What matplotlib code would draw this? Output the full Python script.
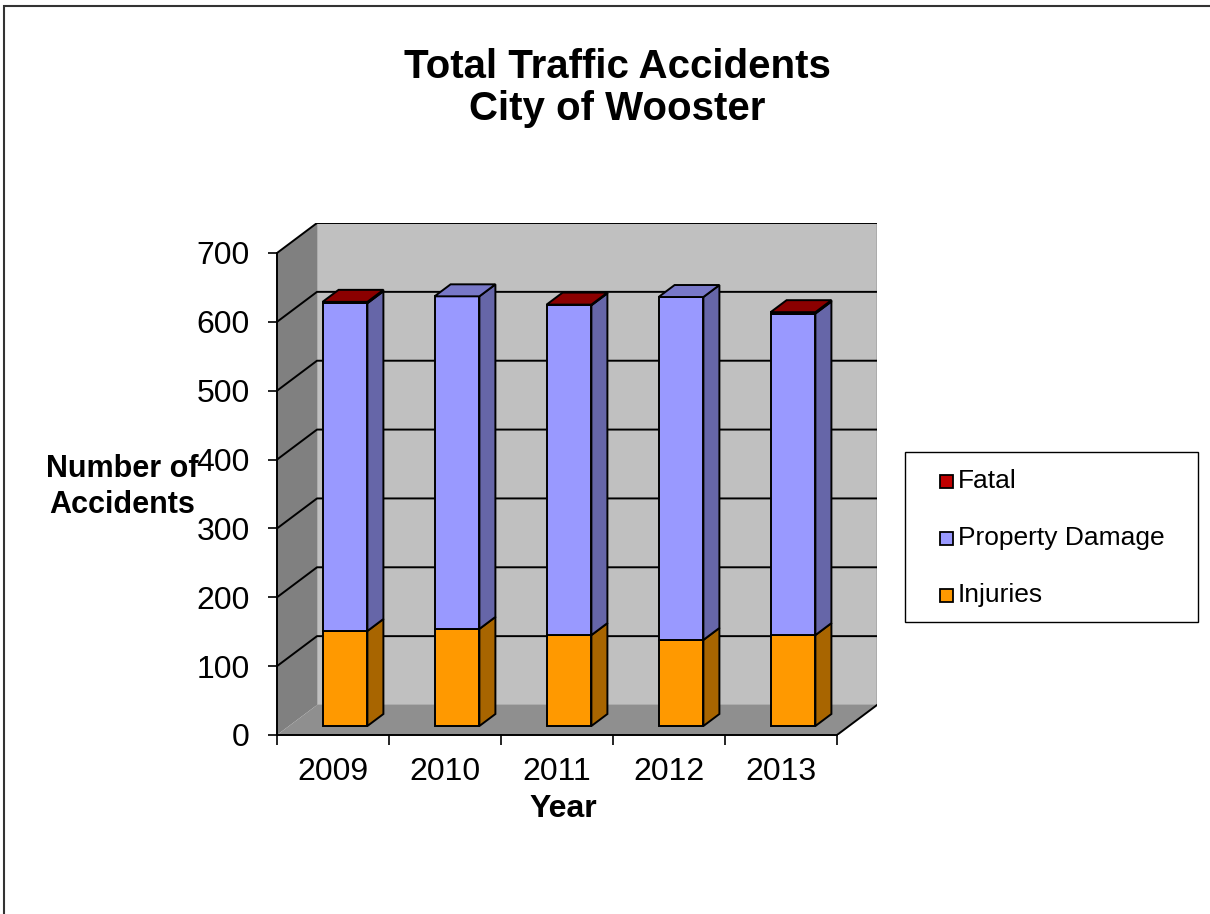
import matplotlib
matplotlib.use("Agg")

import matplotlib.pyplot as plt
from matplotlib.patches import Polygon, Rectangle

plt.rcParams["font.family"] = ["Liberation Sans", "DejaVu Sans"]

# ---------------------------------------------------------------------------
# Data
# ---------------------------------------------------------------------------
years = ["2009", "2010", "2011", "2012", "2013"]
injuries = [138, 141, 132, 125, 132]
property_damage = [476, 483, 479, 498, 467]
fatal = [2, 0, 1, 0, 2]

y_ticks = [0, 100, 200, 300, 400, 500, 600, 700]

# series: (label, values, front, top, side)
SERIES = [
    ("Injuries", injuries, "#FF9900", "#CC7A00", "#A86500"),
    ("Property Damage", property_damage, "#9999FF", "#7878C8", "#6666A8"),
    ("Fatal", fatal, "#C00000", "#8B0000", "#660000"),
]

# ---------------------------------------------------------------------------
# Fake 3D geometry (in data units)
# ---------------------------------------------------------------------------
W, H = 1210, 914
DX = 40 / 112          # depth offset, category units
DY = 30 / (482 / 700)  # depth offset, value units
YMAX = 700
Z0, Z1 = 0.3, 0.7      # bar depth range
BAR_W = 0.4
N = len(years)


def proj(x, y, z):
    return (x + z * DX, y + z * DY)


fig = plt.figure(figsize=(W / 100, H / 100), dpi=100)
ax = fig.add_axes([277 / W, (H - 735) / H, 600 / W, 512 / H])
ax.set_xlim(0, N + DX)
ax.set_ylim(0, YMAX + DY)
ax.patch.set_visible(False)

# walls and floor
ax.add_patch(Polygon([(DX, DY), (N + DX, DY), (N + DX, YMAX + DY), (DX, YMAX + DY)],
                     closed=True, fc="#C0C0C0", ec="#A8A8A8", lw=1.2, zorder=0))
ax.add_patch(Polygon([(0, 0), (DX, DY), (DX, YMAX + DY), (0, YMAX)],
                     closed=True, fc="#808080", ec="none", zorder=0))
ax.add_patch(Polygon([(0, 0), (N, 0), (N + DX, DY), (DX, DY)],
                     closed=True, fc="#8F8F8F", ec="none", zorder=0))

# gridlines on back and left wall
for v in y_ticks[1:]:
    ax.plot([0, DX, N + DX], [v, v + DY, v + DY], color="black", lw=1.4, zorder=1)
ax.plot([N, N + DX], [0, DY], color="black", lw=1.4, zorder=1)

# bars
for i in range(N):
    x0 = i + 0.5 - BAR_W / 2
    x1 = x0 + BAR_W
    base = 0
    top_color = None
    for label, vals, c_front, c_top, c_side in SERIES:
        v = vals[i]
        if v <= 0:
            continue
        y0, y1 = base, base + v
        side = [proj(x1, y0, Z0), proj(x1, y0, Z1), proj(x1, y1, Z1), proj(x1, y1, Z0)]
        front = [proj(x0, y0, Z0), proj(x1, y0, Z0), proj(x1, y1, Z0), proj(x0, y1, Z0)]
        ax.add_patch(Polygon(side, closed=True, fc=c_side, ec="black", lw=1.4, zorder=3))
        ax.add_patch(Polygon(front, closed=True, fc=c_front, ec="black", lw=1.4, zorder=3))
        base = y1
        top_color = c_top
    top = [proj(x0, base, Z0), proj(x1, base, Z0), proj(x1, base, Z1), proj(x0, base, Z1)]
    ax.add_patch(Polygon(top, closed=True, fc=top_color, ec="black", lw=1.4, zorder=4))

# axes
for s in ["top", "right"]:
    ax.spines[s].set_visible(False)
ax.spines["left"].set_bounds(0, YMAX)
ax.spines["bottom"].set_bounds(0, N)
for s in ["left", "bottom"]:
    ax.spines[s].set_linewidth(1.4)
    ax.spines[s].set_zorder(5)

ax.set_yticks(y_ticks)
ax.set_yticklabels([str(t) for t in y_ticks], fontsize=23)
ax.tick_params(axis="y", length=6.5, width=1.2, pad=13)

ax.set_xticks(range(N + 1))
ax.set_xticklabels([])
ax.set_xticks([i + 0.5 for i in range(N)], minor=True)
ax.set_xticklabels(years, minor=True, fontsize=23)
ax.tick_params(axis="x", which="major", length=7, width=1.2)
ax.tick_params(axis="x", which="minor", length=0, pad=16)

# titles
fig.text(617 / W, 1 - 88 / H, "Total Traffic Accidents\nCity of Wooster", ha="center", va="center",
         fontsize=29, fontweight="bold", linespacing=1.15)
fig.text(122 / W, 1 - 487 / H, "Number of\nAccidents", ha="center", va="center",
         fontsize=22, fontweight="bold", linespacing=1.3)
fig.text(563 / W, 1 - 809 / H, "Year", ha="center", va="center", fontsize=23, fontweight="bold")

# legend box (drawn by hand to match the Excel layout)
LEG_X0, LEG_Y0, LEG_X1, LEG_Y1 = 905, 452, 1198, 622
fig.patches.append(Rectangle((LEG_X0 / W, 1 - LEG_Y1 / H), (LEG_X1 - LEG_X0) / W, (LEG_Y1 - LEG_Y0) / H,
                             transform=fig.transFigure, fc="white", ec="black", lw=1.0, zorder=5))
for k, (label, _, c_front, _, _) in enumerate(reversed(SERIES)):
    yc = 481 + 57 * k
    fig.patches.append(Rectangle((940 / W, 1 - (yc + 6.5) / H), 13 / W, 13 / H,
                                 transform=fig.transFigure, fc=c_front, ec="black", lw=1.3, zorder=6))
    fig.text(958 / W, 1 - yc / H, label, ha="left", va="center", fontsize=19, zorder=6)

# outer border of the chart area
fig.patches.append(Rectangle((4 / W, -0.1), 1.2, 1.1 - 6 / H, transform=fig.transFigure,
                             fill=False, ec="#333333", lw=1.5))

fig.savefig("out.png", dpi=100)
